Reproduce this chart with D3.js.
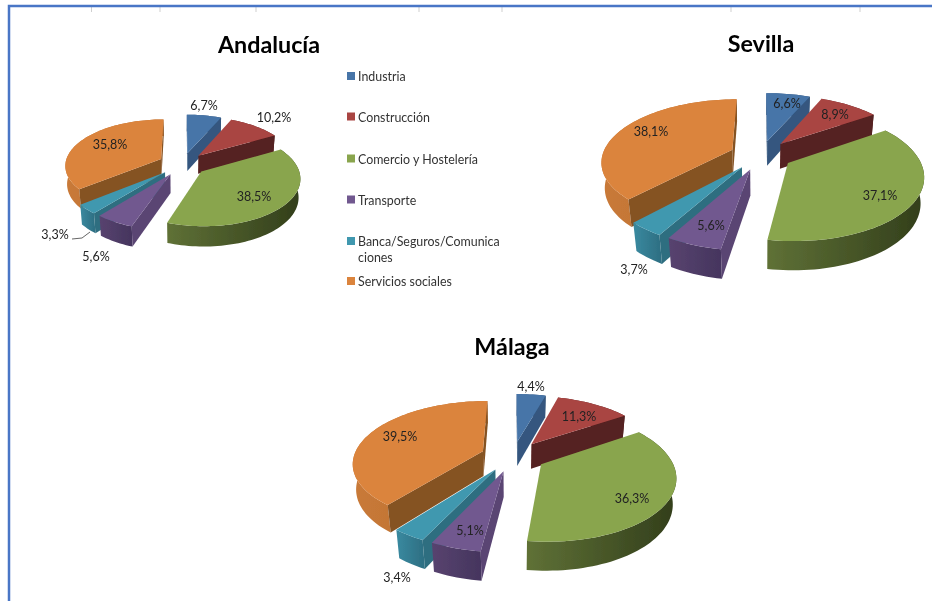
<!DOCTYPE html>
<html>
<head>
<meta charset="utf-8">
<script src="https://cdn.jsdelivr.net/npm/d3@7"></script>
<style>
  html, body { margin: 0; padding: 0; background: #fff; overflow: hidden; }
  text { font-family: Lato, "Open Sans", sans-serif; }
</style>
</head>
<body>
<svg id="chart" width="932" height="601"></svg>
<script>
// values, in percent
const categories = ["Industria", "Construcción", "Comercio y Hostelería", "Transporte", "Banca/Seguros/Comunicaciones", "Servicios sociales"];
const andalucia = [6.7, 10.2, 38.5, 5.6, 3.3, 35.8];
const sevilla = [6.6, 8.9, 37.1, 5.6, 3.7, 38.1];
const malaga = [4.4, 11.3, 36.3, 5.1, 3.4, 39.5];
const legendLines = [["Industria"], ["Construcción"], ["Comercio y Hostelería"], ["Transporte"], ["Banca/Seguros/Comunica", "ciones"], ["Servicios sociales"]];

// colours per category
const topColors = ["#4674a8", "#a94543", "#89a54e", "#71588f", "#4198af", "#db843d"];
const radialColors = ["#34577f", "#552020", "#445427", "#5a4573", "#2f6e80", "#855223"];
const wallLeft = ["#3d628f", "#6e2b2a", "#5f7136", "#58436f", "#3a8aa0", "#c97a38"];
const wallRight = ["#2d4b6e", "#4d1d1d", "#323e1b", "#45355e", "#2e7084", "#b56c30"];

// layout of each pie: centre, radius, tilt, camera distance, explosion, thickness
const charts = [
  { title: "Andalucía", titleX: 269, titleY: 53, values: andalucia, cx: 182.5, cy: 164, R: 96, tilt: 28.5, dist: 7, explode: 0.25, depth: 0.22,
    labels: [[204, 110], [274, 122], [254, 201], [110, 149], [55, 239], [96, 261]], labelIdx: [0, 1, 2, 5, 4, 3], leader: [[72, 239], [82, 238], [90, 232]] },
  { title: "Sevilla", titleX: 761, titleY: 52, values: sevilla, cx: 761, cy: 155, R: 130, tilt: 28, dist: 5, explode: 0.24, depth: 0.225,
    labels: [[787, 108], [835, 119], [880, 200], [651, 136], [634, 274], [711, 230]], labelIdx: [0, 1, 2, 5, 4, 3] },
  { title: "Málaga", titleX: 512, titleY: 355, values: malaga, cx: 513, cy: 456, R: 129, tilt: 28, dist: 5, explode: 0.25, depth: 0.225,
    labels: [[531, 391], [579, 421], [632, 503], [400, 441], [397, 582], [470, 535]], labelIdx: [0, 1, 2, 5, 4, 3] }
];

const legendX = 347;
const legendRows = [77, 117.5, 159.5, 200.5, 242, 282];
const frameTicks = [91.5, 160, 256, 419, 502, 731, 860];

const svg = d3.select("#chart");
const defs = svg.append("defs");
const pie = d3.pie().sort(null).value(d => d);
const line = d3.line();

// the reference is a soft screenshot
defs.append("filter")
  .attr("id", "soft")
  .append("feGaussianBlur")
  .attr("stdDeviation", 0.35);
const root = svg.append("g").attr("filter", "url(#soft)");
root.append("rect").attr("width", 932).attr("height", 601).attr("fill", "#fff");

// frame of the pasted sheet
root.append("g").selectAll("line")
  .data(frameTicks)
  .join("line")
  .attr("x1", d => d).attr("x2", d => d)
  .attr("y1", 7).attr("y2", 12)
  .attr("stroke", "#cfcfcf");
root.append("path")
  .attr("d", "M9,601V6H932")
  .attr("fill", "none")
  .attr("stroke", "#4a76c6")
  .attr("stroke-width", 2.5);

charts.forEach((c, ci) => drawPie(c, ci));
drawLegend();

function drawPie(c, ci) {
  const e = c.tilt * Math.PI / 180;
  const sinE = Math.sin(e), cosE = Math.cos(e);

  // pie plane to screen, with a simple perspective camera
  const project = (X, Y, Z) => {
    const up = Y * sinE + Z * cosE;
    const far = Y * cosE - Z * sinE;
    const s = c.dist / (c.dist + far);
    return [c.cx + c.R * X * s, c.cy - c.R * up * s];
  };

  const slices = pie(c.values).map((d, i) => ({ ...d, i, mid: (d.startAngle + d.endAngle) / 2 }));
  const g = root.append("g");

  // back slices first
  const order = slices.slice().sort((a, b) => Math.cos(b.mid) - Math.cos(a.mid));

  order.forEach(d => {
    const ox = c.explode * Math.sin(d.mid), oy = c.explode * Math.cos(d.mid);
    const pt = (r, a, z) => project(ox + r * Math.sin(a), oy + r * Math.cos(a), z);
    const steps = Math.max(4, Math.ceil((d.endAngle - d.startAngle) * 30));
    const angles = d3.range(steps + 1).map(k => d.startAngle + (d.endAngle - d.startAngle) * k / steps);

    const topArc = angles.map(a => pt(1, a, 0));
    const lowArc = angles.map(a => pt(1, a, -c.depth));

    // gradient along the curved wall
    const xs = topArc.map(p => p[0]);
    const id = `wall-${ci}-${d.i}`;
    const grad = defs.append("linearGradient")
      .attr("id", id)
      .attr("gradientUnits", "userSpaceOnUse")
      .attr("x1", d3.min(xs)).attr("x2", d3.max(xs))
      .attr("y1", 0).attr("y2", 0);
    grad.append("stop").attr("offset", 0).attr("stop-color", wallLeft[d.i]);
    grad.append("stop").attr("offset", 1).attr("stop-color", wallRight[d.i]);

    g.append("path")
      .attr("d", line(topArc.concat(lowArc.slice().reverse())) + "Z")
      .attr("fill", `url(#${id})`);

    // flat walls, only those turned to the camera
    [d.startAngle, d.endAngle].forEach((a, k) => {
      const poly = [pt(0, a, 0), pt(1, a, 0), pt(1, a, -c.depth), pt(0, a, -c.depth)];
      const area = d3.polygonArea(poly) * (k === 0 ? 1 : -1);
      if (area > 0) {
        g.append("path")
          .attr("d", line(poly) + "Z")
          .attr("fill", radialColors[d.i]);
      }
    });

    g.append("path")
      .attr("d", line([pt(0, d.startAngle, 0)].concat(topArc)) + "Z")
      .attr("fill", topColors[d.i]);
  });

  root.append("text")
    .attr("x", c.titleX)
    .attr("y", c.titleY)
    .attr("text-anchor", "middle")
    .attr("font-size", 23.3)
    .attr("font-weight", 700)
    .attr("fill", "#000")
    .text(c.title);

  if (c.leader) {
    root.append("path")
      .attr("d", line(c.leader))
      .attr("fill", "none")
      .attr("stroke", "#666");
  }

  root.append("g").selectAll("text")
    .data(c.labelIdx)
    .join("text")
    .attr("x", (d, i) => c.labels[i][0])
    .attr("y", (d, i) => c.labels[i][1])
    .attr("text-anchor", "middle")
    .attr("font-size", 12.5)
    .attr("fill", "#222")
    .text(d => d3.format(".1f")(c.values[d]).replace(".", ",") + "%");
}

function drawLegend() {
  const rows = root.append("g").selectAll("g")
    .data(categories)
    .join("g");

  rows.append("rect")
    .attr("x", legendX)
    .attr("y", (d, i) => legendRows[i] - 5)
    .attr("width", 8)
    .attr("height", 8)
    .attr("fill", (d, i) => topColors[i]);

  rows.each(function (d, i) {
    d3.select(this).selectAll("text")
      .data(legendLines[i])
      .join("text")
      .attr("x", legendX + 11)
      .attr("y", (t, k) => legendRows[i] + 4 + k * 16)
      .attr("font-size", 12.4)
      .attr("fill", "#333")
      .text(t => t);
  });
}
</script>
</body>
</html>
